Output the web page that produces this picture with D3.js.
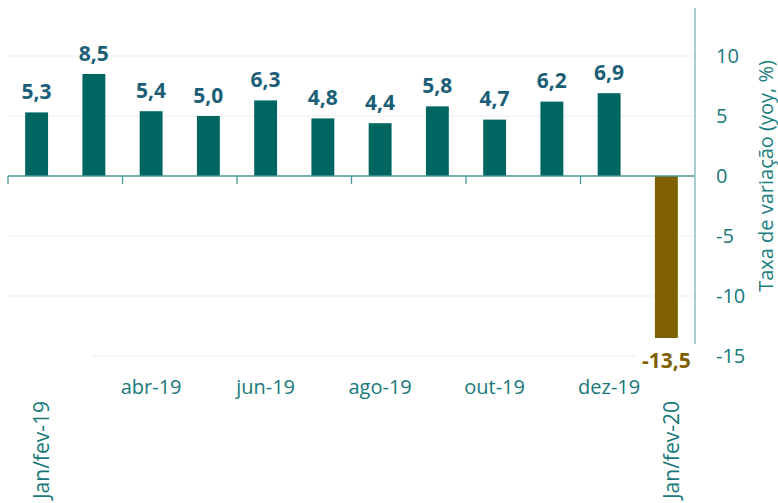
<!DOCTYPE html>
<html>
<head>
<meta charset="utf-8">
<script src="https://cdn.jsdelivr.net/npm/d3@7"></script>
<style>
  html, body { margin: 0; padding: 0; background: #ffffff; }
  svg { display: block; font-family: "Open Sans", "Noto Sans", sans-serif; }
</style>
</head>
<body>
<div id="chart"></div>
<script>
// ---- data ----
const categories = ["jan/fev-19", "mar-19", "abr-19", "mai-19", "jun-19", "jul-19",
                    "ago-19", "set-19", "out-19", "nov-19", "dez-19", "jan/fev-20"];
const values = [5.3, 8.5, 5.4, 5.0, 6.3, 4.8, 4.4, 5.8, 4.7, 6.2, 6.9, -13.5];
const categoryLabels = ["Jan/fev-19", "", "abr-19", "", "jun-19", "", "ago-19", "",
                        "out-19", "", "dez-19", "Jan/fev-20"];
const rotatedLabels = ["Jan/fev-19", "Jan/fev-20"];
const yTicks = [-15, -10, -5, 0, 5, 10];
const yTitle = "Taxa de variação (yoy, %)";

// ---- layout ----
const W = 778, H = 503;
const plotLeft = 8, plotRight = 695;
const tealBar = "#006661", negBar = "#7F6000";
const valueColor = "#1B5E77", tickColor = "#17787A";

const locale = d3.formatLocale({decimal: ",", thousands: ".", grouping: [3], currency: ["R$", ""], minus: "-"});
const fmt1 = locale.format(".1f");
const fmt0 = locale.format("d");

const svg = d3.select("#chart").append("svg").attr("width", W).attr("height", H);

const x = d3.scaleBand().domain(categories).range([plotLeft, plotRight])
  .paddingInner(0.6).paddingOuter(0.3);
const y = d3.scaleLinear().domain([-15, 10]).range([356, 56]);

const step = x.step();
const bandStart = i => plotLeft + step * i;

// gridlines
svg.append("g").selectAll("line").data(yTicks.filter(d => d !== 0)).join("line")
  .attr("x1", d => d === -15 ? 92 : plotLeft)
  .attr("x2", d => d === -15 ? 637 : plotRight)
  .attr("y1", d => y(d)).attr("y2", d => y(d))
  .attr("stroke", "#EFEFEF").attr("stroke-width", 1);

// bars
svg.append("g").selectAll("rect").data(categories).join("rect")
  .attr("x", d => x(d))
  .attr("width", x.bandwidth())
  .attr("y", (d, i) => Math.min(y(values[i]), y(0)))
  .attr("height", (d, i) => Math.abs(y(values[i]) - y(0)))
  .attr("fill", (d, i) => values[i] < 0 ? negBar : tealBar);

// x axis line + ticks
svg.append("line").attr("x1", plotLeft).attr("x2", plotRight)
  .attr("y1", y(0)).attr("y2", y(0)).attr("stroke", "#4A9696").attr("stroke-width", 1.3);
const tickIdx = d3.range(0, categories.length, 2);
svg.append("g").selectAll("line").data(tickIdx).join("line")
  .attr("x1", i => bandStart(i)).attr("x2", i => bandStart(i))
  .attr("y1", y(0)).attr("y2", y(0) + 8)
  .attr("stroke", "#4A9696").attr("stroke-width", 1.3);

// right axis line
svg.append("line").attr("x1", plotRight).attr("x2", plotRight)
  .attr("y1", y(14)).attr("y2", y(-14))
  .attr("stroke", "#93C2C2").attr("stroke-width", 1.6);

// right axis tick labels
const yAxis = d3.axisRight(y).tickValues(yTicks).tickSize(0).tickPadding(0).tickFormat(fmt0);
const gy = svg.append("g").attr("transform", `translate(716,0)`).call(yAxis);
gy.select(".domain").remove();
gy.selectAll("text").attr("font-size", 20).attr("fill", tickColor)
  .attr("font-family", '"Open Sans", sans-serif').attr("text-anchor", "start").attr("x", 0);

// axis title
svg.append("text")
  .attr("transform", `translate(773,${y(0)}) rotate(-90)`)
  .attr("text-anchor", "middle")
  .attr("font-size", 20).attr("fill", "#1A7E80")
  .text(yTitle);

// value labels
svg.append("g").selectAll("text").data(categories).join("text")
  .attr("x", d => x(d) + x.bandwidth() / 2)
  .attr("y", (d, i) => values[i] >= 0 ? y(values[i]) - 13.5 : y(values[i]) + 30)
  .attr("text-anchor", "middle")
  .attr("font-size", 21).attr("font-weight", 700)
  .attr("fill", (d, i) => values[i] < 0 ? negBar : valueColor)
  .text((d, i) => fmt1(values[i]));

// category labels
categories.forEach((c, i) => {
  const lab = categoryLabels[i];
  if (!lab) return;
  const cx = x(c) + x.bandwidth() / 2;
  if (rotatedLabels.includes(lab)) {
    svg.append("text")
      .attr("transform", `translate(${cx + 5},401) rotate(-90)`)
      .attr("text-anchor", "end").attr("dy", "0.35em")
      .attr("font-size", 21).attr("fill", tickColor).text(lab);
  } else {
    svg.append("text").attr("x", cx).attr("y", 394)
      .attr("text-anchor", "middle")
      .attr("font-size", 20).attr("fill", tickColor).text(lab);
  }
});
</script>
</body>
</html>
